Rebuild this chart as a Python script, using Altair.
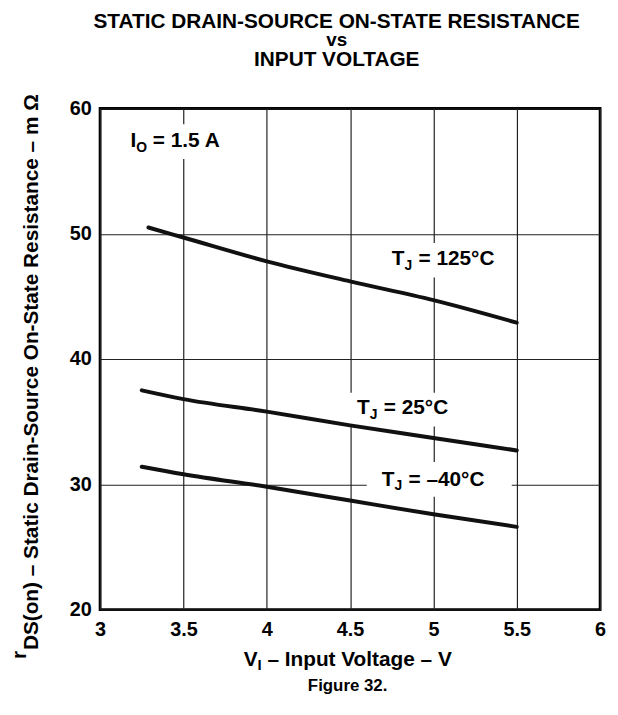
import altair as alt
import pandas as pd

FONT = "Liberation Sans"

# ---- data ----
v_125 = [3.29, 3.5, 4.0, 4.5, 5.0, 5.5]
r_125 = [50.5, 49.7, 47.8, 46.2, 44.7, 42.9]
v_25 = [3.25, 3.5, 4.0, 4.5, 5.0, 5.5]
r_25 = [37.5, 36.8, 35.8, 34.7, 33.7, 32.7]
v_m40 = [3.25, 3.5, 4.0, 4.5, 5.0, 5.5]
r_m40 = [31.4, 30.8, 29.8, 28.7, 27.6, 26.6]

x_ticks = [3, 3.5, 4, 4.5, 5, 5.5, 6]
y_ticks = [20, 30, 40, 50, 60]

# annotation labels: anchor (V, mOhm), main letter, subscript, remainder
lab_x = [3.183, 4.75, 4.542, 4.69]
lab_y = [56.9, 47.5, 35.57, 29.9]
lab_main = ["I", "T", "T", "T"]
lab_sub = ["O", "J", "J", "J"]
lab_rest = ["= 1.5 A", "= 125°C", "= 25°C", "= –40°C"]
lab_sub_dx = [5.8, 12.8, 12.8, 12.8]
lab_rest_dx = [22.5, 27.0, 27.0, 27.0]

# white boxes behind labels (V, mOhm)
box_x1 = [3.11, 4.69, 4.45, 4.60]
box_x2 = [3.83, 5.45, 5.18, 5.47]
box_y1 = [58.74, 49.27, 37.31, 31.78]
box_y2 = [55.97, 46.50, 34.62, 29.00]

curves = pd.DataFrame({
    "v": v_125 + v_25 + v_m40,
    "r": r_125 + r_25 + r_m40,
    "s": ["125"] * len(v_125) + ["25"] * len(v_25) + ["-40"] * len(v_m40),
})

xs = alt.Scale(domain=[3, 6], nice=False, zero=False)
ys = alt.Scale(domain=[20, 60], nice=False, zero=False)

axis_common = dict(
    domain=False, ticks=False, grid=True, gridColor="#222222", gridWidth=1.2,
    labelFont=FONT, labelFontSize=20, labelFontWeight="bold", labelColor="black",
    labelFlush=False, labelExpr="datum.value", title=None,
)
X_AX = alt.Axis(values=x_ticks, labelPadding=10, **axis_common)
Y_AX = alt.Axis(values=y_ticks, labelPadding=9, **axis_common)

boxes_df = pd.DataFrame({"x1": box_x1, "x2": box_x2, "y1": box_y1, "y2": box_y2})
boxes = alt.Chart(boxes_df).mark_rect(color="white").encode(
    x=alt.X("x1:Q", scale=xs, axis=X_AX), x2="x2:Q",
    y=alt.Y("y1:Q", scale=ys, axis=Y_AX), y2="y2:Q",
)

lines = alt.Chart(curves).mark_line(
    color="#111111", strokeWidth=4, strokeCap="round", interpolate="monotone"
).encode(
    x=alt.X("v:Q", scale=xs, axis=X_AX),
    y=alt.Y("r:Q", scale=ys, axis=Y_AX),
    detail="s:N",
)

labels_df = pd.DataFrame({
    "x": lab_x, "y": lab_y, "main": lab_main, "sub": lab_sub, "rest": lab_rest,
})

layers = [boxes, lines]


def data_text(field, size, dx_list, dy):
    out = []
    for i in range(len(lab_x)):
        row = labels_df.iloc[[i]]
        out.append(
            alt.Chart(row).mark_text(
                font=FONT, fontSize=size, fontWeight="bold", color="black",
                align="left", baseline="alphabetic", dx=dx_list[i], dy=dy,
            ).encode(
                x=alt.X("x:Q", scale=xs, axis=X_AX),
                y=alt.Y("y:Q", scale=ys, axis=Y_AX),
                text=f"{field}:N",
            )
        )
    return out


layers += data_text("main", 21, [0, 0, 0, 0], 0)
layers += data_text("sub", 14, lab_sub_dx, 5)
layers += data_text("rest", 21, lab_rest_dx, 0)


def px_text(text, x, y, size, align="left", angle=0, baseline="alphabetic"):
    return alt.Chart(pd.DataFrame({"t": [text]})).mark_text(
        font=FONT, fontSize=size, fontWeight="bold", color="black",
        align=align, baseline=baseline, angle=angle,
    ).encode(x=alt.value(x), y=alt.value(y), text="t:N")


# title
layers.append(px_text("STATIC DRAIN-SOURCE ON-STATE RESISTANCE", 239, -81, 21, align="center"))
layers.append(px_text("vs", 239, -63, 19, align="center"))
layers.append(px_text("INPUT VOLTAGE", 239, -42.5, 21, align="center"))

# x axis title: V_I – Input Voltage – V
layers.append(px_text("V", 145, 563, 21))
layers.append(px_text("I", 159, 567, 15))
layers.append(px_text("– Input Voltage – V", 169, 563, 21))

# y axis title: r_DS(on) – Static Drain-Source On-State Resistance – m Ω
layers.append(px_text("r", -75, 556, 21, angle=270))
layers.append(px_text("DS(on) – Static Drain-Source On-State Resistance – m Ω", -62.7, 547, 21, angle=270))

# caption
layers.append(px_text("Figure 32.", 250, 588, 17, align="center"))

chart = alt.layer(*layers).properties(
    width=505, height=506,
    autosize=alt.AutoSizeParams(type="none"),
    padding={"left": 93, "top": 98, "right": 10, "bottom": 100},
).configure_view(stroke="black", strokeWidth=2.8)

chart.save("out.html", embed_options={"renderer": "svg", "actions": False})
